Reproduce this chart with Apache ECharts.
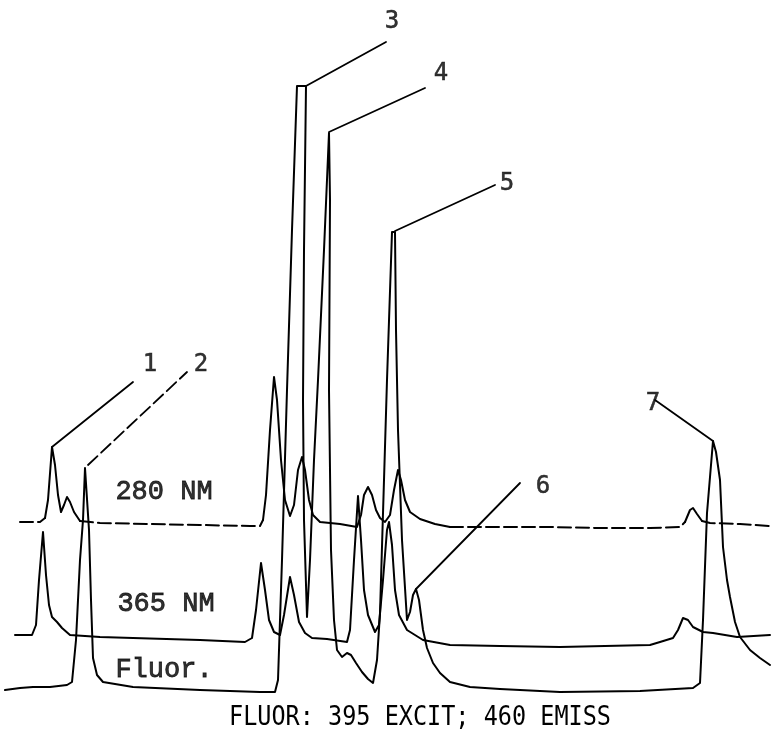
<!DOCTYPE html>
<html>
<head>
<meta charset="utf-8">
<script src="https://cdn.jsdelivr.net/npm/echarts@6/dist/echarts.min.js"></script>
<style>
html,body{margin:0;padding:0;background:#fff;}
#chart{width:771px;height:734px;}
</style>
</head>
<body>
<div id="chart"></div>
<script>
// Recorder traces: [time position, pen position (from top)]
const trace280 = [[20,522],[40,522],[45,518],[48,500],[52,447],[55,465],[58,495],[61,512],[64,505],[67,497],[70,502],[74,512],[80,521],[100,523],[150,524],[200,525],[250,526],[260,526],[263,520],[266,495],[270,430],[274,377],[277,400],[281,460],[285,500],[290,516],[294,505],[298,470],[302,457],[305,470],[309,500],[313,515],[320,522],[340,524],[357,527],[361,515],[364,495],[368,487],[372,495],[376,510],[380,518],[385,522],[390,515],[394,490],[398,470],[401,480],[405,500],[410,512],[420,519],[435,524],[450,527],[500,527],[550,527],[600,528],[650,528],[680,527],[685,522],[690,510],[693,508],[697,514],[702,521],[710,523],[740,524],[770,526]];
const dashed280 = [[0,45],[80,262],[450,683],[705,771]];

const trace365 = [[15,635],[32,635],[36,625],[39,580],[43,532],[46,575],[49,605],[52,617],[57,622],[62,628],[70,635],[100,637],[133,638],[200,640],[245,642],[252,638],[256,610],[261,563],[265,590],[269,620],[274,632],[280,635],[284,615],[290,577],[294,595],[299,622],[305,633],[312,638],[327,639],[347,642],[350,630],[354,560],[358,496],[361,540],[364,590],[368,615],[375,632],[379,625],[383,580],[387,530],[389,522],[392,545],[395,590],[399,615],[407,630],[423,640],[450,645],[500,646],[560,647],[650,645],[660,642],[673,638],[678,630],[683,618],[688,620],[693,627],[703,632],[713,633],[737,637],[770,635]];

const traceFluor = [[5,690],[20,688],[33,687],[50,687],[67,685],[72,682],[76,640],[80,560],[83,520],[85,468],[87,470],[89,530],[91,600],[93,658],[97,675],[103,682],[133,687],[200,690],[260,692],[275,692],[278,680],[282,560],[287,390],[292,230],[297,86],[306,86],[304,250],[303,400],[304,520],[307,617],[310,560],[314,460],[318,380],[324,250],[329,133],[330,200],[329,390],[331,550],[334,620],[337,650],[342,657],[347,653],[351,655],[356,663],[362,672],[368,679],[373,683],[377,660],[380,613],[384,480],[387,380],[392,232],[395,232],[396,330],[398,430],[402,540],[407,620],[410,612],[413,595],[416,589],[419,600],[423,630],[427,648],[433,663],[440,673],[450,682],[470,687],[500,689],[560,692],[640,691],[693,688],[700,683],[703,620],[707,513],[713,441],[716,452],[720,480],[723,547],[727,580],[730,597],[735,622],[740,637],[750,650],[760,658],[770,665]];

// Peak identification: leader lines and numbers
const peakNames = ['1','2','3','4','5','6','7'];
const leaderFrom = [[52,447],[88,465],[306,86],[329,132],[395,231],[416,589],[713,441]];
const leaderTo = [[133,382],[187,372],[386,42],[425,88],[495,185],[520,483],[655,400]];
const peakLabelAt = [[150,365],[201,365],[392,22],[441,74],[507,184],[543,487],[653,404]];

const traceNames = ['280 NM','365 NM','Fluor.'];
const traceLabelAt = [[164,492],[166,604],[164,670]];
const caption = 'FLUOR: 395 EXCIT; 460 EMISS';

const INK = '#000';
const series = [];

function mk(data, type, width){
  return {
    type:'line', data: data, showSymbol:false, silent:true, animation:false,
    lineStyle:{color:INK, width: width || 2, type: type === 'dashed' ? [13,5] : 'solid', cap:'round', join:'round'}
  };
}

function inDashed(x){ return dashed280.some(r => x >= r[0] && x <= r[1]); }
// split 280 trace into solid and dashed pieces
let cur = null, curType = null;
for (let i = 0; i < trace280.length - 1; i++) {
  const a = trace280[i], b = trace280[i+1];
  const t = inDashed((a[0]+b[0])/2) ? 'dashed' : 'solid';
  if (t !== curType) {
    if (cur) series.push(mk(cur, curType));
    cur = [a]; curType = t;
  }
  cur.push(b);
}
if (cur) series.push(mk(cur, curType));

series.push(mk(trace365, 'solid'));
series.push(mk(traceFluor, 'solid'));

for (let i = 0; i < leaderFrom.length; i++) {
  series.push(mk([leaderFrom[i], leaderTo[i]], i === 1 ? 'dashed' : 'solid', 1.8));
}

series.push({
  type:'scatter', symbolSize:0, silent:true, animation:false,
  data: peakLabelAt.map((p,i) => [p[0], p[1], peakNames[i]]),
  label:{show:true, position:'inside', formatter: p => p.value[2],
    fontFamily:'DejaVu Sans Mono', fontSize:24, color:INK,
    textBorderColor:INK, textBorderWidth:0.5}
});
series.push({
  type:'scatter', symbolSize:0, silent:true, animation:false,
  data: traceLabelAt.map((p,i) => [p[0], p[1], traceNames[i]]),
  label:{show:true, position:'inside', formatter: p => p.value[2],
    fontFamily:'Liberation Mono', fontSize:27, color:INK,
    textBorderColor:INK, textBorderWidth:0.8}
});

const chart = echarts.init(document.getElementById('chart'));
chart.setOption({
  backgroundColor:'#fff',
  animation:false,
  grid:{left:0,right:0,top:0,bottom:0},
  xAxis:{type:'value', min:0, max:771, show:false},
  yAxis:{type:'value', min:0, max:734, inverse:true, show:false},
  series: series,
  graphic:[{
    type:'text', left:229, top:704, scaleY:1.16,
    style:{text:caption, fontFamily:'DejaVu Sans Mono', fontSize:23.5, fill:INK}
  }]
});
</script>
</body>
</html>
